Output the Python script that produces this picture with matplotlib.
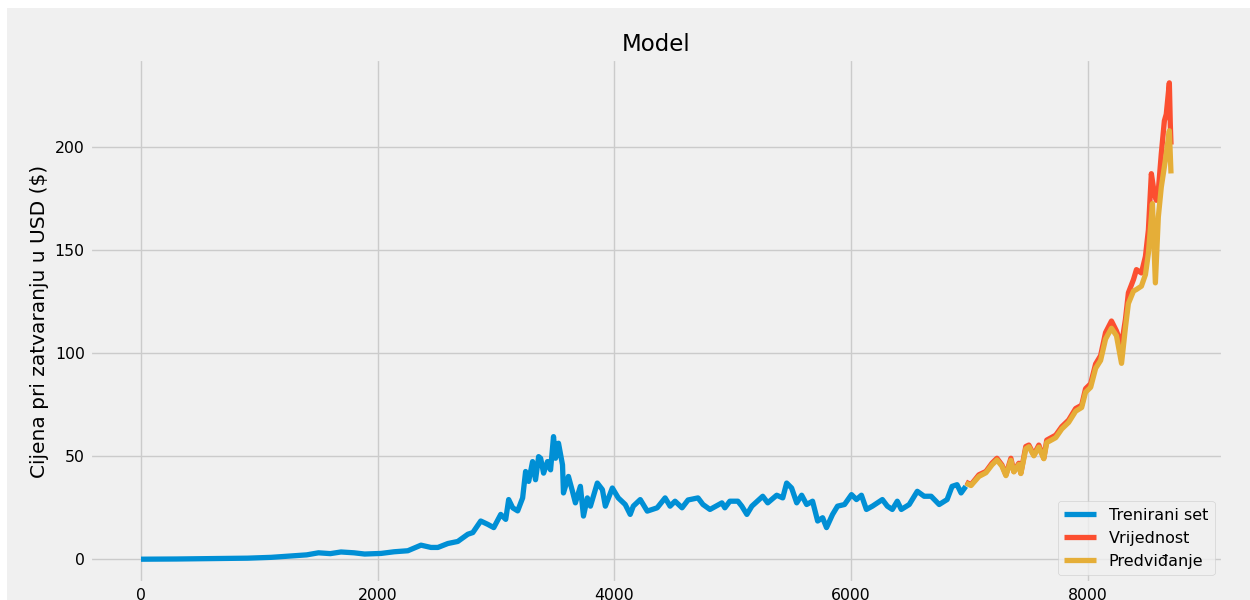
import matplotlib
matplotlib.use('Agg')
import matplotlib.pyplot as plt
from matplotlib.patches import Rectangle

# Trenirani set (indeks dana, cijena pri zatvaranju)
train_idx = [0, 300, 600, 900, 1100, 1300, 1400, 1500, 1600, 1690, 1800, 1890,
             2029, 2139, 2255, 2366, 2450, 2509, 2593, 2677, 2762, 2804, 2871,
             2930, 2981, 3040, 3082, 3107, 3141, 3183, 3225, 3250, 3276, 3309,
             3334, 3360, 3377, 3402, 3435, 3461, 3486, 3503, 3528, 3562, 3570,
             3612, 3646, 3671, 3713, 3739, 3772, 3798, 3856, 3899, 3924, 3983,
             4033, 4092, 4134, 4160, 4219, 4278, 4362, 4429, 4471, 4513, 4572,
             4623, 4707, 4749, 4808, 4909, 4934, 4976, 5044, 5077, 5120, 5162,
             5254, 5296, 5372, 5423, 5456, 5498, 5541, 5583, 5625, 5675, 5718,
             5760, 5793, 5844, 5886, 5945, 6004, 6046, 6088, 6130, 6181, 6265,
             6307, 6349, 6391, 6425, 6492, 6560, 6618, 6677, 6745, 6812, 6854,
             6896, 6930, 6970]
train_close = [0.1, 0.2, 0.4, 0.6, 1.0, 1.8, 2.2, 3.2, 2.8, 3.6, 3.2, 2.6,
               2.9, 3.7, 4.2, 6.9, 5.8, 5.8, 7.7, 8.7, 12.2, 13.0, 18.6,
               17.0, 15.4, 21.8, 19.4, 29.0, 25.0, 23.5, 29.8, 42.6, 37.8, 47.4,
               38.6, 49.8, 49.0, 41.8, 47.4, 43.4, 59.5, 49.0, 56.3, 45.8, 32.2,
               40.2, 33.0, 27.4, 35.4, 21.0, 29.8, 25.8, 37.0, 33.8, 25.8, 34.6,
               29.8, 26.6, 21.8, 25.8, 29.0, 23.4, 25.0, 29.8, 25.8, 28.2, 25.0,
               28.8, 29.8, 26.6, 24.2, 27.4, 25.0, 28.2, 28.2, 25.8, 21.8, 25.8,
               30.6, 27.4, 31.1, 29.8, 37.0, 34.6, 27.4, 31.1, 26.6, 28.2, 18.6,
               20.2, 15.4, 21.8, 25.8, 26.6, 31.4, 29.0, 31.1, 24.2, 25.8, 29.0,
               25.8, 24.2, 28.2, 24.2, 26.6, 33.0, 30.6, 30.6, 26.6, 29.0, 35.4,
               36.2, 32.2, 35.4]

# Validacijski dio: stvarna vrijednost i predviđanje modela
valid_idx = [6970, 7014, 7081, 7140, 7191, 7233, 7275, 7309, 7351, 7376, 7418,
             7435, 7477, 7503, 7545, 7587, 7629, 7654, 7730, 7781, 7839, 7898,
             7949, 7982, 8025, 8067, 8109, 8151, 8201, 8243, 8286, 8319, 8344,
             8387, 8412, 8454, 8488, 8513, 8538, 8563, 8580, 8597, 8622, 8648,
             8664, 8690, 8698, 8704]
valid_close = [37.5, 36.2, 41.0, 42.6, 46.6, 49.0, 45.8, 41.0, 49.0, 42.6, 46.6,
               41.8, 54.7, 55.4, 50.6, 55.4, 49.0, 57.8, 60.2, 64.3, 67.5, 73.1,
               74.7, 82.7, 85.1, 94.7, 98.7, 109.9, 115.5, 110.7, 104.0, 116.3, 129.2,
               135.6, 140.4, 138.8, 146.8, 159.6, 186.9, 177.3, 174.0, 178.8, 196.5, 212.5,
               215.7, 230.9, 210.9, 201.0]
pred_idx = [6970, 7014, 7081, 7140, 7191, 7233, 7275, 7309, 7351, 7376, 7418,
            7435, 7477, 7503, 7545, 7587, 7629, 7654, 7730, 7781, 7839, 7898,
            7949, 7982, 8025, 8067, 8109, 8151, 8201, 8243, 8286, 8319, 8344,
            8387, 8412, 8454, 8488, 8513, 8538, 8547, 8572, 8597, 8622, 8656,
            8690, 8698, 8704]
pred_close = [37.0, 35.8, 40.2, 42.0, 45.8, 48.2, 45.2, 40.6, 48.0, 42.4, 46.0,
              41.6, 53.6, 54.6, 50.2, 54.4, 48.8, 56.6, 59.0, 63.2, 66.4, 71.8,
              73.6, 81.0, 83.4, 92.6, 96.4, 106.8, 112.0, 108.4, 95.0, 112.4, 124.0,
              130.0, 130.8, 132.4, 138.0, 148.4, 166.0, 172.4, 134.0, 166.0, 180.4, 193.3,
              207.7, 196.0, 187.0]

plt.style.use('fivethirtyeight')

fig = plt.figure(figsize=(12.5, 6), dpi=100)
fig.patch.set_facecolor('#f0f0f0')
# bijeli rub gore i lijevo (kao na izrezanoj slici)
fig.add_artist(Rectangle((0, 0), 7 / 1250, 1, transform=fig.transFigure,
                         facecolor='white', edgecolor='none', zorder=-1))
fig.add_artist(Rectangle((0, 1 - 8 / 600), 1, 8 / 600, transform=fig.transFigure,
                         facecolor='white', edgecolor='none', zorder=-1))

ax = fig.add_axes([0.0716, 0.0283, 0.9064, 0.8733])
ax.plot(train_idx, train_close, linewidth=3.8)
ax.plot(valid_idx, valid_close, linewidth=3.8)
ax.plot(pred_idx, pred_close, linewidth=3.8)

ax.set_title('Model', fontsize=16.5)
ax.set_ylabel('Cijena pri zatvaranju u USD ($)', fontsize=14.5)
ax.tick_params(labelsize=11.3)
ax.legend(['Trenirani set', 'Vrijednost', 'Predviđanje'], loc='lower right', fontsize=11.5)

fig.savefig('out.png', dpi=100, facecolor=fig.get_facecolor())
